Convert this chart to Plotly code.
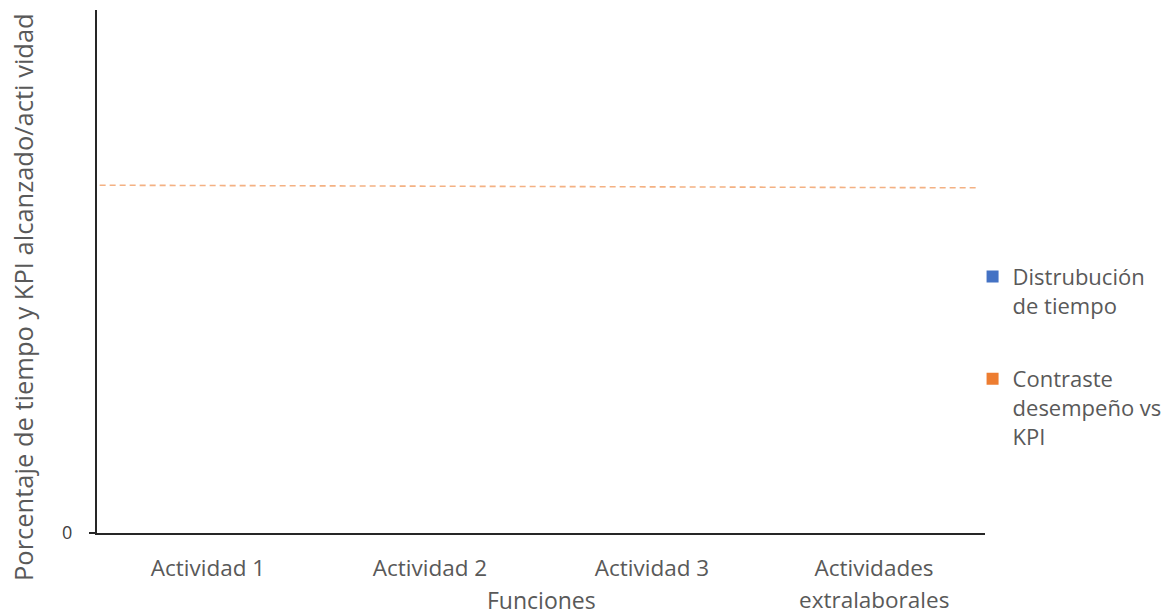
import plotly.graph_objects as go

categories = ["Actividad 1", "Actividad 2", "Actividad 3", "Actividades extralaborales"]
tick_first = ["Actividad 1", "Actividad 2", "Actividad 3", "Actividades"]
tiempo = [0, 0, 0, 0]
contraste = [0, 0, 0, 0]
kpi_x = [0.003, 0.992]
kpi_y = [0.665, 0.660]

TXT = "#595959"
FONT = "Open Sans"

fig = go.Figure()
fig.add_trace(go.Bar(x=categories, y=tiempo, name="Distrubución<br>de tiempo",
                     legendgroup="a",
                     marker=dict(color="#4472C4", line=dict(width=0))))
fig.add_trace(go.Bar(x=categories, y=contraste, name="Contraste<br>desempeño vs<br>KPI",
                     legendgroup="b",
                     marker=dict(color="#ED7D31", line=dict(width=0))))
fig.add_trace(go.Scatter(x=kpi_x, y=kpi_y, mode="lines", xaxis="x2", showlegend=False,
                         line=dict(color="#F4B183", width=1.6, dash="6px,4px")))

fig.update_layout(
    width=1171, height=615,
    margin=dict(l=97, r=186, t=10, b=82, autoexpand=False),
    paper_bgcolor="white", plot_bgcolor="white",
    font=dict(family=FONT, color=TXT, size=15),
    showlegend=True,
    legend=dict(x=0.986, y=0.53, xanchor="left", yanchor="top", valign="top",
                font=dict(size=22, color=TXT), itemwidth=30,
                traceorder="grouped", tracegroupgap=42,
                bgcolor="rgba(0,0,0,0)"),
    xaxis=dict(type="category", tickvals=categories, ticktext=tick_first,
               showline=True, linecolor="#262626", linewidth=2, ticks="",
               showgrid=False, tickfont=dict(size=22.5, color=TXT), ticklabelstandoff=14),
    xaxis2=dict(overlaying="x", range=[0, 1], visible=False),
    yaxis=dict(range=[0, 1], tickvals=[0], ticktext=["0"], showline=True,
               linecolor="#262626", linewidth=2, ticks="outside", ticklen=6,
               tickcolor="#262626", tickwidth=2, showgrid=False, zeroline=False,
               tickfont=dict(size=18, color="#404040"), ticklabelstandoff=13),
    annotations=[
        dict(text="Porcentaje de tiempo y KPI alcanzado/acti vidad", textangle=-90,
             xref="paper", yref="paper", x=-0.084, y=0.452, xanchor="center",
             yanchor="middle", showarrow=False, font=dict(size=25.5, color=TXT)),
        dict(text="Funciones", xref="paper", yref="paper", x=0.5, y=-0.128,
             xanchor="center", yanchor="middle", showarrow=False,
             font=dict(size=23, color=TXT)),
        dict(text="extralaborales", xref="x", yref="paper", x=categories[3], y=-0.128,
             xanchor="center", yanchor="middle", showarrow=False,
             font=dict(size=22.5, color=TXT)),
    ],
)

fig.write_html("out.html")
